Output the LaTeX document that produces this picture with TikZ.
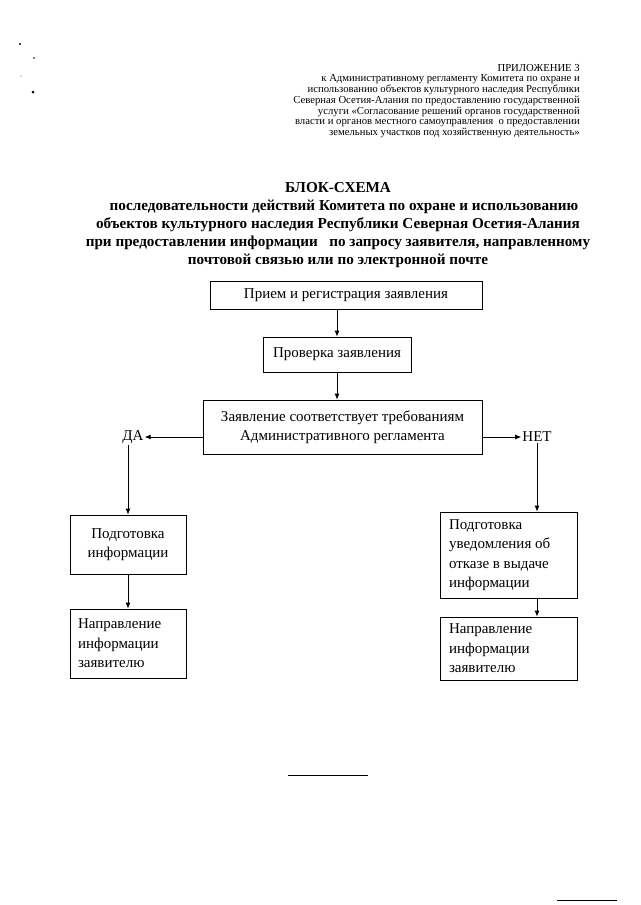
\documentclass[tikz,border=0pt]{standalone}
\usepackage{fontspec}
\setmainfont{Liberation Serif}
\usetikzlibrary{arrows.meta}
\begin{document}
\begin{tikzpicture}[x=1pt,y=-1pt,
  box/.style={draw,line width=0.8pt,inner sep=0pt,font=\fontsize{15}{19.5}\selectfont},
  tbox/.style={box,inner xsep=8pt,align=flush left},
  lbl/.style={inner sep=1pt,font=\fontsize{15}{19.5}\selectfont},
  arr/.style={draw,line width=0.8pt,-{Latex[length=6pt,width=5pt]}}]
\useasboundingbox (0,0) rectangle (640,905);

% scan marks
\fill (20,44) circle (1.2);
\fill (34,58) circle (0.8);
\fill (21,76) circle (0.5);
\fill (33,92) circle (1.5);

\node[anchor=north east,align=right,inner sep=0pt,font=\fontsize{10.7}{10.7}\selectfont] (head) at (580,64)
  {ПРИЛОЖЕНИЕ 3\\
   к Административному регламенту Комитета по охране и\\
   использованию объектов культурного наследия Республики\\
   Северная Осетия-Алания по предоставлению государственной\\
   услуги «Согласование решений органов государственной\\
   власти и органов местного самоуправления\ \ о предоставлении\\
   земельных участков под хозяйственную деятельность»};

\node[anchor=north,align=center,inner sep=0pt,font=\fontsize{15.2}{18}\bfseries] (title) at (338,182)
  {БЛОК-СХЕМА\\
   \hspace*{12pt}последовательности действий Комитета по охране и использованию\\
   объектов культурного наследия Республики Северная Осетия-Алания\\
   при предоставлении информации\ \ \ по запросу заявителя, направленному\\
   почтовой связью или по электронной почте};

\node[box,minimum width=272pt,minimum height=28pt] (recv) at (346,295) {Прием и регистрация заявления};
\node[box,minimum width=148pt,minimum height=35pt] (verify) at (337,354.5) {Проверка заявления};
\node[box,minimum width=279pt,minimum height=54pt,align=center] (check) at (342.5,427)
  {Заявление соответствует требованиям\\Административного регламента};

\node[lbl] (da) at (133,437) {ДА};
\node[lbl] (net) at (537,437) {НЕТ};

\node[box,minimum width=116pt,minimum height=59pt,align=center] (prep) at (128,544.5) {Подготовка\\информации};
\node[tbox,text width=100pt,minimum height=69pt] (sendyes) at (128,643.5) {Направление\\информации\\заявителю};
\node[tbox,inner xsep=9pt,text width=119pt,minimum height=86pt] (refuse) at (508.5,555)
  {Подготовка\\уведомления об\\отказе в выдаче\\информации};
\node[tbox,inner xsep=9pt,text width=119pt,minimum height=63pt] (sendno) at (508.5,648.5)
  {Направление\\информации\\заявителю};

\path[arr] (recv.south -| verify.north) -- (verify.north);
\path[arr] (verify.south) -- (verify.south |- check.north);
\path[arr] (check.west |- da.east) -- (da.east);
\path[arr] (check.east |- net.west) -- (net.west);
\path[arr] (da.south -| prep.north) -- (prep.north);
\path[arr] (net.south) -- (net.south |- refuse.north);
\path[arr] (prep.south) -- (sendyes.north);
\path[arr] (refuse.south -| net.south) -- (sendno.north -| net.south);

% footnote rules
\draw[line width=0.8pt] (288,775) -- (368,775);
\draw[line width=0.8pt] (557,900) -- (617,900);
\end{tikzpicture}
\end{document}
